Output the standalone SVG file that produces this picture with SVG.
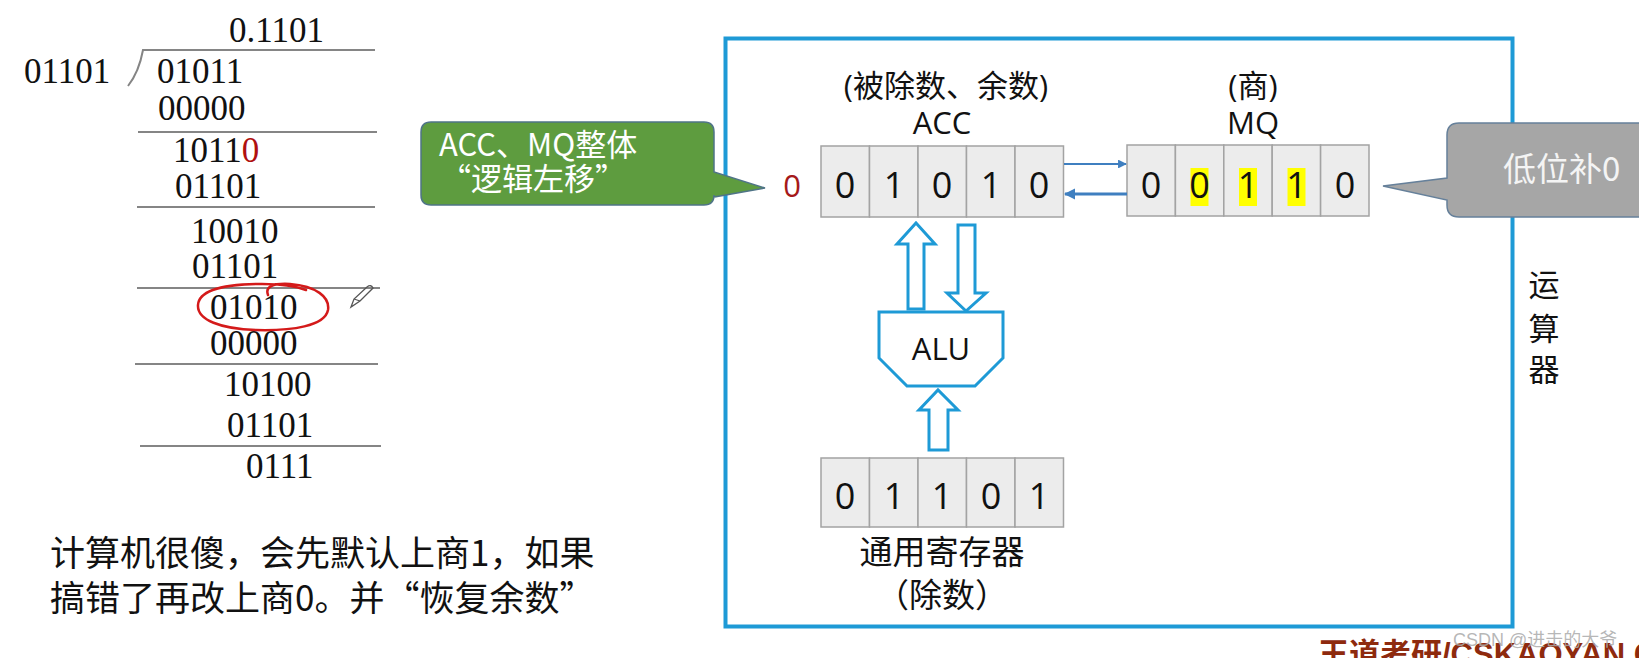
<svg xmlns="http://www.w3.org/2000/svg" width="1639" height="658" viewBox="0 0 1639 658">
<style>
.num{font-family:"Liberation Serif","Times New Roman",serif;font-size:35px;fill:#111}
.rule{stroke:#858585;stroke-width:2;fill:none}
.cell{fill:#ececec;stroke:#a3a3a3;stroke-width:1.5}
.dig{font-family:"Open Sans","Liberation Sans",sans-serif;font-size:36px;fill:#111;text-anchor:middle}
.lbl{font-family:"Open Sans","Noto Sans CJK SC",sans-serif;font-size:31px;fill:#111;text-anchor:middle}
.cjk{font-family:"Noto Sans CJK SC","Liberation Sans",sans-serif;fill:#111}
.hollow{fill:#fff;stroke:#1E9AD6;stroke-width:3;stroke-linejoin:miter}
.hl{fill:#ffff00}
</style>
<defs>
<marker id="ah" viewBox="0 0 10 10" refX="9" refY="5" markerWidth="4" markerHeight="4" orient="auto" markerUnits="strokeWidth">
<path d="M0,0 L10,5 L0,10 Z" fill="#3f7fc0"/>
</marker>
</defs>
<rect width="1639" height="658" fill="#fff"/>

<!-- Long division -->
<g id="division">
<text class="num" x="229" y="42">0.1101</text>
<path class="rule" d="M128,86 Q139,72 143,50 L375,50"/>
<text class="num" x="24" y="83">01101</text>
<text class="num" x="157" y="83">01011</text>
<text class="num" x="158" y="120">00000</text>
<line class="rule" x1="138" y1="132" x2="377" y2="132"/>
<text class="num" x="173" y="162">1011<tspan fill="#b01010">0</tspan></text>
<text class="num" x="175" y="198">01101</text>
<line class="rule" x1="137" y1="207" x2="375" y2="207"/>
<text class="num" x="191" y="243">10010</text>
<text class="num" x="192" y="278">01101</text>
<line class="rule" x1="137" y1="288" x2="380" y2="288"/>
<text class="num" x="210" y="319">01010</text>
<text class="num" x="210" y="355">00000</text>
<line class="rule" x1="135" y1="364" x2="378" y2="364"/>
<text class="num" x="224" y="396">10100</text>
<text class="num" x="227" y="437">01101</text>
<line class="rule" x1="140" y1="446" x2="381" y2="446"/>
<text class="num" x="246" y="478">0111</text>
<path d="M268,295 C265,287 272,283 290,284 C316,286 330,297 328,310 C325,326 292,331 256,330 C221,329 197,320 198,305 C199,290 226,284 262,284 C284,284 298,287 306,290" fill="none" stroke="#d41a1a" stroke-width="2.5" stroke-linecap="round"/>
<path d="M351,307 L354,299 L367,287 Q371,284 373,288 L360,301 Z M354,299 L360,301" fill="none" stroke="#555" stroke-width="1.3"/>
</g>

<g id="note">
<text class="cjk" x="50" y="566" font-size="35">计算机很傻，会先默认上商1，如果</text>
<text class="cjk" x="50" y="611" font-size="35">搞错了再改上商0。并“恢复余数”</text>
</g>

<!-- Frame -->
<g id="alu-frame">
<rect x="725.5" y="38.5" width="787" height="588" fill="none" stroke="#1E9AD6" stroke-width="4"/>
<text class="cjk" x="1544" y="296" font-size="31" text-anchor="middle">运</text>
<text class="cjk" x="1544" y="340" font-size="31" text-anchor="middle">算</text>
<text class="cjk" x="1544" y="381" font-size="31" text-anchor="middle">器</text>
</g>

<!-- ACC -->
<g id="acc">
<text class="lbl" x="946" y="97">(被除数、余数)</text>
<text class="lbl" x="942" y="134">ACC</text>
<rect class="cell" x="821" y="146" width="48.5" height="71"/>
<rect class="cell" x="869.5" y="146" width="48.5" height="71"/>
<rect class="cell" x="918" y="146" width="48.5" height="71"/>
<rect class="cell" x="966.5" y="146" width="48.5" height="71"/>
<rect class="cell" x="1015" y="146" width="48.5" height="71"/>
<text class="dig" x="845" y="198">0</text>
<text class="dig" x="894" y="198">1</text>
<text class="dig" x="942" y="198">0</text>
<text class="dig" x="991" y="198">1</text>
<text class="dig" x="1039" y="198">0</text>
<text x="792" y="197" font-family="Open Sans, Liberation Sans, sans-serif" font-size="31" fill="#a51a1a" text-anchor="middle">0</text>
</g>

<!-- MQ -->
<g id="mq">
<text class="lbl" x="1253" y="97">(商)</text>
<text class="lbl" x="1253" y="134">MQ</text>
<rect class="cell" x="1127" y="145" width="48.4" height="71"/>
<rect class="cell" x="1175.4" y="145" width="48.4" height="71"/>
<rect class="cell" x="1223.8" y="145" width="48.4" height="71"/>
<rect class="cell" x="1272.2" y="145" width="48.4" height="71"/>
<rect class="cell" x="1320.6" y="145" width="48.4" height="71" fill="#a3a3a3"/>
<rect class="hl" x="1190.5" y="168" width="18" height="38"/>
<rect class="hl" x="1239" y="168" width="18" height="38"/>
<rect class="hl" x="1287.5" y="168" width="18" height="38"/>
<text class="dig" x="1151" y="198">0</text>
<text class="dig" x="1199.5" y="198">0</text>
<text class="dig" x="1248" y="198">1</text>
<text class="dig" x="1296.5" y="198">1</text>
<text class="dig" x="1345" y="198">0</text>
</g>

<!-- ALU -->
<g id="alu">
<polygon class="hollow" points="879,312 1003,312 1003,358 975,386 907,386 879,358"/>
<text x="941" y="360" font-family="Open Sans, Liberation Sans, sans-serif" font-size="31" font-weight="500" fill="#111" text-anchor="middle">ALU</text>
</g>

<!-- General register -->
<g id="gpr">
<rect class="cell" x="821" y="458" width="48.5" height="69"/>
<rect class="cell" x="869.5" y="458" width="48.5" height="69"/>
<rect class="cell" x="918" y="458" width="48.5" height="69"/>
<rect class="cell" x="966.5" y="458" width="48.5" height="69"/>
<rect class="cell" x="1015" y="458" width="48.5" height="69"/>
<text class="dig" x="845" y="509">0</text>
<text class="dig" x="894" y="509">1</text>
<text class="dig" x="942" y="509">1</text>
<text class="dig" x="991" y="509">0</text>
<text class="dig" x="1039" y="509">1</text>
<text class="cjk" x="942" y="564" font-size="33" text-anchor="middle">通用寄存器</text>
<text class="cjk" x="942" y="607" font-size="33" text-anchor="middle">（除数）</text>
</g>

<!-- Connectors -->
<g id="connectors">
<line x1="1064" y1="164" x2="1126" y2="164" stroke="#3f7fc0" stroke-width="2.2" marker-end="url(#ah)"/>
<line x1="1127" y1="194" x2="1065" y2="194" stroke="#3f7fc0" stroke-width="2.8" marker-end="url(#ah)"/>
<polygon class="hollow" points="908,309 908,244 897,244 916,223 935,244 924,244 924,309"/>
<polygon class="hollow" points="958,225 975,225 975,293 986,293 966,311 947,293 958,293"/>
<polygon class="hollow" points="929,450 929,410 919,410 938,390 958,410 948,410 948,450"/>
</g>

<!-- Callouts -->
<g id="callout-shift">
<path d="M431,122 L704,122 Q714,122 714,132 L714,172 L765,188 L714,197 L714,195 Q714,205 704,205 L431,205 Q421,205 421,195 L421,132 Q421,122 431,122 Z" fill="#5E9C3F" stroke="#4f7487" stroke-width="1.5"/>
<text class="cjk" x="439" y="156" font-size="31" style="fill:#fff">ACC、MQ整体</text>
<text class="cjk" x="440" y="190" font-size="31" style="fill:#fff">“逻辑左移”</text>
</g>

<g id="callout-fill">
<path d="M1459,123 L1660,123 L1660,217 L1459,217 Q1447,217 1447,205 L1447,200 L1383,186 L1447,178 L1447,135 Q1447,123 1459,123 Z" fill="#A6A6A6" stroke="#66809a" stroke-width="1.5"/>
<text class="cjk" x="1503" y="181" font-size="33" style="fill:#f4f4f4">低位补0</text>
</g>

<!-- Watermarks -->
<g id="watermark">
<text x="1318" y="665" font-family="Liberation Sans, Noto Sans CJK SC, sans-serif" font-size="31" font-weight="bold" fill="#8e2a0e">王道考研/CSKAOYAN.COM</text>
<text x="1453" y="646" font-family="Liberation Sans, Noto Sans CJK SC, sans-serif" font-size="18" fill="#aaa" fill-opacity="0.85">CSDN @进击的大爷</text>
</g>
</svg>
